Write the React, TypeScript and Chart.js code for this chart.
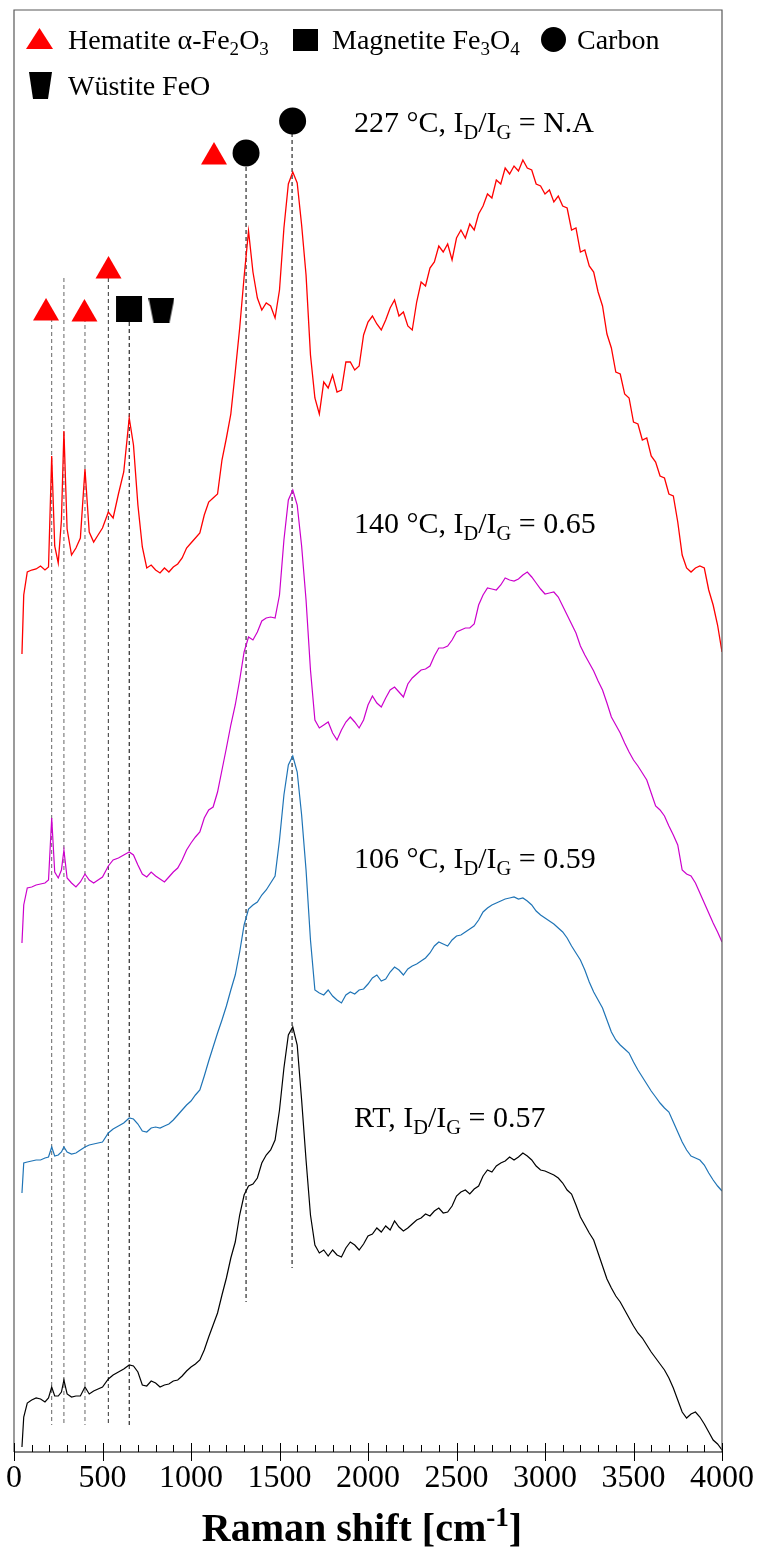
import React, { useEffect, useRef } from 'react';
import { Chart, registerables } from 'chart.js';

Chart.register(...registerables);

const FONT = "'Liberation Serif', 'Times New Roman', Times, serif";

// Raman shift axis (cm-1) shared by all spectra
const ramanShift = [
  45, 55, 75, 100, 125, 150, 175, 195, 213, 230,
  250, 268, 282, 300, 325, 350, 375, 401, 425, 450,
  475, 500, 533, 560, 590, 620, 651, 675, 700, 725,
  750,
  775, 800, 825, 850, 875, 900, 925, 950, 975, 1000,
  1025, 1050, 1075, 1100, 1125, 1150, 1175, 1200, 1225, 1250,
  1275, 1300, 1325, 1350, 1375, 1400, 1425, 1450, 1475, 1500,
  1525, 1550, 1575, 1600, 1625, 1650, 1675, 1700, 1725, 1750,
  1775, 1800, 1825, 1850, 1875, 1900, 1925, 1950, 1975, 2000,
  2025, 2050, 2075, 2100, 2125, 2150, 2175, 2200, 2225, 2250,
  2275, 2300, 2325, 2350, 2375, 2400, 2425, 2450, 2475, 2500,
  2525, 2550, 2575, 2600, 2625, 2650, 2675, 2700, 2725, 2750,
  2775, 2800, 2825, 2850, 2875, 2900, 2925, 2950, 2975, 3000,
  3025, 3050, 3075, 3100, 3125, 3150, 3175, 3200, 3225, 3250,
  3275, 3300, 3325, 3350, 3375, 3400, 3425, 3450, 3475, 3500,
  3525, 3550, 3575, 3600, 3625, 3650, 3675, 3700, 3725, 3750,
  3775, 3800, 3825, 3850, 3875, 3900, 3925, 3950, 3975, 4000,
];

// Stacked (offset) intensities, arbitrary units
const intensityRT = [
  5, 35, 49, 52, 54, 53, 50, 54, 65, 56,
  56, 60, 72, 58, 55, 56, 56, 65, 58, 61,
  63, 65, 73, 77, 80, 83, 87, 86, 80, 67,
  66,
  71, 69, 65, 67, 68, 71, 72, 76, 81, 85,
  88, 92, 102, 115, 127, 139, 157, 174, 194, 210,
  237, 257, 266, 268, 274, 289, 297, 302, 312, 342,
  384, 417, 425, 407, 352, 292, 237, 207, 199, 202,
  196, 202, 197, 195, 204, 210, 207, 202, 208, 216,
  218, 224, 220, 226, 222, 231, 225, 221, 224, 228,
  232, 234, 238, 236, 241, 244, 239, 240, 246, 256,
  260, 262, 258, 263, 266, 276, 282, 280, 286, 289,
  291, 295, 292, 295, 299, 296, 292, 286, 282, 281,
  279, 277, 274, 269, 262, 258, 247, 235, 227, 219,
  212, 199, 186, 173, 164, 156, 150, 142, 134, 126,
  119, 114, 107, 100, 94, 88, 82, 74, 64, 52,
  40, 34, 38, 40, 35, 28, 20, 12, 8, 2,
];

const intensity106 = [
  259, 289, 290, 291, 292, 292, 294, 295, 305, 296,
  297, 300, 305, 300, 298, 299, 302, 305, 307, 308,
  309, 310, 319, 323, 326, 329, 334, 333, 328, 321,
  320,
  324, 325, 324, 326, 328, 332, 337, 342, 347, 351,
  357, 362, 376, 391, 405, 419, 432, 446, 462, 477,
  500, 527, 543, 547, 550, 557, 562, 569, 576, 612,
  657, 687, 696, 680, 637, 582, 512, 462, 459, 457,
  462, 456, 452, 449, 457, 460, 458, 462, 463, 468,
  474, 477, 471, 473, 480, 485, 482, 477, 483, 486,
  488, 491, 494, 499, 506, 510, 508, 506, 512, 516,
  517, 520, 523, 526, 532, 540, 544, 547, 549, 551,
  553, 554, 555, 553, 554, 551, 547, 541, 537, 534,
  531, 528, 524, 520, 514, 506, 499, 492, 482, 470,
  460, 452, 444, 432, 420, 412, 407, 403, 399, 390,
  382, 375, 368, 361, 355, 349, 344, 340, 330, 320,
  310, 302, 296, 294, 292, 287, 279, 272, 266, 261,
];

const intensity140 = [
  509, 547, 564, 565, 567, 568, 569, 572, 634, 580,
  574, 582, 602, 574, 569, 565, 570, 578, 572, 569,
  572, 575, 586, 592, 594, 597, 600, 597, 587, 578,
  575,
  580, 576, 573, 570, 575, 580, 584, 592, 602, 609,
  615, 620, 634, 642, 645, 660, 682, 704, 727, 747,
  772, 800, 815, 812, 820, 831, 834, 835, 834, 857,
  912, 952, 962, 947, 906, 852, 782, 732, 724, 727,
  730, 719, 712, 722, 730, 735, 730, 724, 732, 747,
  756, 749, 745, 754, 762, 765, 760, 755, 768, 774,
  778, 782, 783, 786, 796, 804, 804, 806, 812, 820,
  822, 824, 824, 828, 847, 857, 864, 863, 862, 867,
  874, 872, 871, 873, 877, 880, 875, 869, 863, 858,
  859, 860, 855, 846, 837, 828, 819, 806, 797, 789,
  781, 771, 762, 749, 735, 727, 719, 709, 700, 692,
  686, 679, 672, 659, 646, 642, 636, 626, 617, 607,
  582, 578, 576, 569, 559, 549, 539, 529, 520, 510,
];

const intensity227 = [
  798, 857, 880, 882, 883, 886, 882, 885, 996, 906,
  889, 932, 1021, 923, 897, 904, 914, 983, 920, 910,
  917, 924, 940, 934, 958, 980, 1034, 1007, 947, 905,
  884,
  887, 882, 879, 884, 880, 885, 888, 894, 904, 909,
  914, 919, 937, 950, 954, 958, 992, 1014, 1038, 1080,
  1124, 1175, 1221, 1180, 1154, 1142, 1149, 1146, 1134, 1162,
  1224, 1268, 1280, 1269, 1227, 1177, 1097, 1054, 1038, 1070,
  1064, 1077, 1060, 1062, 1090, 1090, 1082, 1086, 1117, 1130,
  1136, 1128, 1122, 1132, 1144, 1152, 1136, 1140, 1126, 1122,
  1150, 1170, 1166, 1184, 1190, 1206, 1200, 1208, 1192, 1214,
  1222, 1214, 1228, 1222, 1238, 1246, 1258, 1254, 1272, 1268,
  1284, 1278, 1286, 1281, 1292, 1284, 1282, 1268, 1266, 1258,
  1262, 1250, 1256, 1246, 1244, 1222, 1224, 1200, 1202, 1186,
  1180, 1160, 1146, 1118, 1104, 1080, 1078, 1058, 1054, 1030,
  1028, 1012, 1014, 996, 990, 976, 974, 958, 956, 930,
  897, 884, 880, 884, 886, 884, 862, 847, 827, 800,
];

// x-axis tick labels (cm-1)
const xTickValues = [0, 500, 1000, 1500, 2000, 2500, 3000, 3500, 4000];

// Dashed reference lines at assigned band positions
const bandLineX = [213, 282, 401, 533, 651, 1311, 1571];
const bandLineTop = [1134, 1174, 1134, 1174, 1130, 1285, 1319];
const bandLineBottom = [27, 27, 27, 27, 27, 150, 184];
const bandLineColor = ['#666666', '#666666', '#666666', '#333333', '#000000', '#000000', '#000000'];

// Phase markers above the bands
const hematiteX = [181, 398, 534, 1130];
const hematiteY = [1139, 1138, 1181, 1295];
const magnetiteX = [650];
const magnetiteY = [1143];
const wustiteX = [833];
const wustiteY = [1142];
const carbonX = [1311, 1574];
const carbonY = [1299, 1331];

// Spectrum labels
const spectrumLabels = [
  { temp: '227 °C, I', ratio: ' = N.A', y: 1320 },
  { temp: '140 °C, I', ratio: ' = 0.65', y: 919 },
  { temp: '106 °C, I', ratio: ' = 0.59', y: 584 },
  { temp: 'RT, I', ratio: ' = 0.57', y: 325 },
];

type Part = [string, number];

function drawRich(ctx: CanvasRenderingContext2D, parts: Part[], x: number, y: number, size: number, weight = 'normal') {
  let cx = x;
  ctx.textAlign = 'left';
  ctx.textBaseline = 'alphabetic';
  for (const [t, k] of parts) {
    const s = k === 0 ? size : size * 0.68;
    ctx.font = `${weight} ${s}px ${FONT}`;
    const dy = k === 1 ? size * 0.22 : k === 2 ? -size * 0.38 : 0;
    ctx.fillText(t, cx, y + dy);
    cx += ctx.measureText(t).width;
  }
  return cx - x;
}

function richWidth(ctx: CanvasRenderingContext2D, parts: Part[], size: number, weight = 'normal') {
  let w = 0;
  for (const [t, k] of parts) {
    const s = k === 0 ? size : size * 0.68;
    ctx.font = `${weight} ${s}px ${FONT}`;
    w += ctx.measureText(t).width;
  }
  return w;
}

function makeTrapezoid(w: number, h: number, inset: number) {
  const c = document.createElement('canvas');
  c.width = w;
  c.height = h;
  const g = c.getContext('2d')!;
  g.fillStyle = '#000';
  g.beginPath();
  g.moveTo(0, 0);
  g.lineTo(w, 0);
  g.lineTo(w - inset, h);
  g.lineTo(inset, h);
  g.closePath();
  g.fill();
  return c;
}

const toPoints = (xs: number[], ys: number[]) => xs.map((x, i) => ({ x, y: ys[i] }));

export default function App() {
  const ref = useRef<HTMLCanvasElement>(null);

  useEffect(() => {
    const canvas = ref.current!;
    const trap = makeTrapezoid(26, 25, 5);

    const spectra = [
      { data: intensity227, color: '#ff0000', width: 1.3 },
      { data: intensity140, color: '#cc00cc', width: 1.2 },
      { data: intensity106, color: '#1f74b6', width: 1.2 },
      { data: intensityRT, color: '#000000', width: 1.2 },
    ];

    const datasets: any[] = [];
    datasets.push({
      type: 'line', data: toPoints(hematiteX, hematiteY), showLine: false,
      pointStyle: 'triangle', pointRadius: 15, backgroundColor: '#ff0000', borderColor: '#ff0000',
      borderWidth: 0, order: 0,
    });
    datasets.push({
      type: 'line', data: toPoints(magnetiteX, magnetiteY), showLine: false,
      pointStyle: 'rect', pointRadius: 18.4, backgroundColor: '#000', borderColor: '#000',
      borderWidth: 0, order: 0,
    });
    datasets.push({
      type: 'line', data: toPoints(wustiteX, wustiteY), showLine: false,
      pointStyle: trap, pointRadius: 13, backgroundColor: '#000', borderColor: '#000',
      borderWidth: 0, order: 0,
    });
    datasets.push({
      type: 'line', data: toPoints(carbonX, carbonY), showLine: false,
      pointStyle: 'circle', pointRadius: 13.5, backgroundColor: '#000', borderColor: '#000',
      borderWidth: 0, order: 0,
    });
    spectra.forEach((s) => {
      datasets.push({
        type: 'line', data: toPoints(ramanShift, s.data), borderColor: s.color,
        borderWidth: s.width, pointRadius: 0, tension: 0, fill: false, order: 1,
      });
    });
    bandLineX.forEach((x, i) => {
      datasets.push({
        type: 'line', data: [{ x, y: bandLineTop[i] }, { x, y: bandLineBottom[i] }],
        borderColor: bandLineColor[i], borderWidth: 1, borderDash: [4, 3], pointRadius: 0, order: 2,
      });
    });

    const decor = {
      id: 'decor',
      afterDraw(chart: any) {
        const ctx: CanvasRenderingContext2D = chart.ctx;
        const xs = chart.scales.x;
        const ys = chart.scales.y;
        const { left, right, top, bottom } = chart.chartArea;
        ctx.save();
        ctx.strokeStyle = '#595959';
        ctx.lineWidth = 1.2;
        ctx.beginPath();
        ctx.moveTo(left, bottom);
        ctx.lineTo(left, top);
        ctx.lineTo(right, top);
        ctx.lineTo(right, bottom);
        ctx.stroke();
        ctx.strokeStyle = '#000';
        ctx.lineWidth = 1.2;
        ctx.beginPath();
        ctx.moveTo(left, bottom);
        ctx.lineTo(right, bottom);
        ctx.stroke();
        ctx.lineWidth = 1;
        for (let v = 0; v <= 4000; v += 100) {
          const px = Math.round(xs.getPixelForValue(v)) + 0.5;
          const major = v % 500 === 0;
          ctx.beginPath();
          ctx.moveTo(px, bottom - (major ? 9 : 7));
          ctx.lineTo(px, bottom + (major ? 9 : 0));
          ctx.stroke();
        }
        // legend
        const lsz = 28;
        ctx.fillStyle = '#ff0000';
        ctx.beginPath();
        ctx.moveTo(39.5, 28);
        ctx.lineTo(53, 49);
        ctx.lineTo(26, 49);
        ctx.closePath();
        ctx.fill();
        ctx.fillStyle = '#000';
        drawRich(ctx, [['Hematite α-Fe', 0], ['2', 1], ['O', 0], ['3', 1]], 68, 48.5, lsz);
        ctx.fillRect(293, 29, 25, 22);
        drawRich(ctx, [['Magnetite Fe', 0], ['3', 1], ['O', 0], ['4', 1]], 332, 48.5, lsz);
        ctx.beginPath();
        ctx.arc(553.5, 39.5, 12.5, 0, Math.PI * 2);
        ctx.fill();
        drawRich(ctx, [['Carbon', 0]], 577, 48.5, lsz);
        ctx.drawImage(makeTrapezoid(23, 27, 4), 29, 72);
        drawRich(ctx, [['Wüstite FeO', 0]], 68, 95, lsz);
        // spectrum labels
        spectrumLabels.forEach((l) => {
          const py = ys.getPixelForValue(l.y);
          drawRich(ctx, [[l.temp, 0], ['D', 1], ['/I', 0], ['G', 1], [l.ratio, 0]], 354, py, 30);
        });
        // axis title
        const tParts: Part[] = [['Raman shift [cm', 0], ['-1', 2], [']', 0]];
        const tw = richWidth(ctx, tParts, 40, 'bold');
        drawRich(ctx, tParts, (left + right) / 2 - tw / 2 - 6, 1541, 40, 'bold');
        ctx.restore();
      },
    };

    const chart = new Chart(canvas, {
      type: 'line',
      data: { datasets },
      options: {
        animation: false,
        responsive: false,
        devicePixelRatio: 1,
        events: [],
        layout: { autoPadding: false, padding: { left: 14, right: 37, top: 10, bottom: 0 } },
        plugins: { legend: { display: false }, tooltip: { enabled: false } },
        scales: {
          x: {
            type: 'linear',
            position: 'bottom',
            min: 0,
            max: 4000,
            afterBuildTicks: (scale: any) => {
              scale.ticks = xTickValues.map((v) => ({ value: v }));
            },
            afterFit: (scale: any) => {
              scale.height = 116;
              scale.paddingLeft = 0;
              scale.paddingRight = 0;
            },
            ticks: {
              autoSkip: false,
              maxRotation: 0,
              minRotation: 0,
              padding: 7,
              color: '#000',
              font: { family: FONT, size: 32 },
              callback: (v: any) => String(v),
            },
            grid: { display: false, drawTicks: false },
            border: { display: false },
          },
          y: {
            display: false,
            min: 0,
            max: 1442,
          },
        },
      },
      plugins: [decor],
    } as any);

    return () => chart.destroy();
  }, []);

  return (
    <div style={{ position: 'absolute', left: 0, top: 0, width: 759, height: 1568, background: '#fff' }}>
      <canvas ref={ref} width={759} height={1568} style={{ display: 'block' }} />
    </div>
  );
}
